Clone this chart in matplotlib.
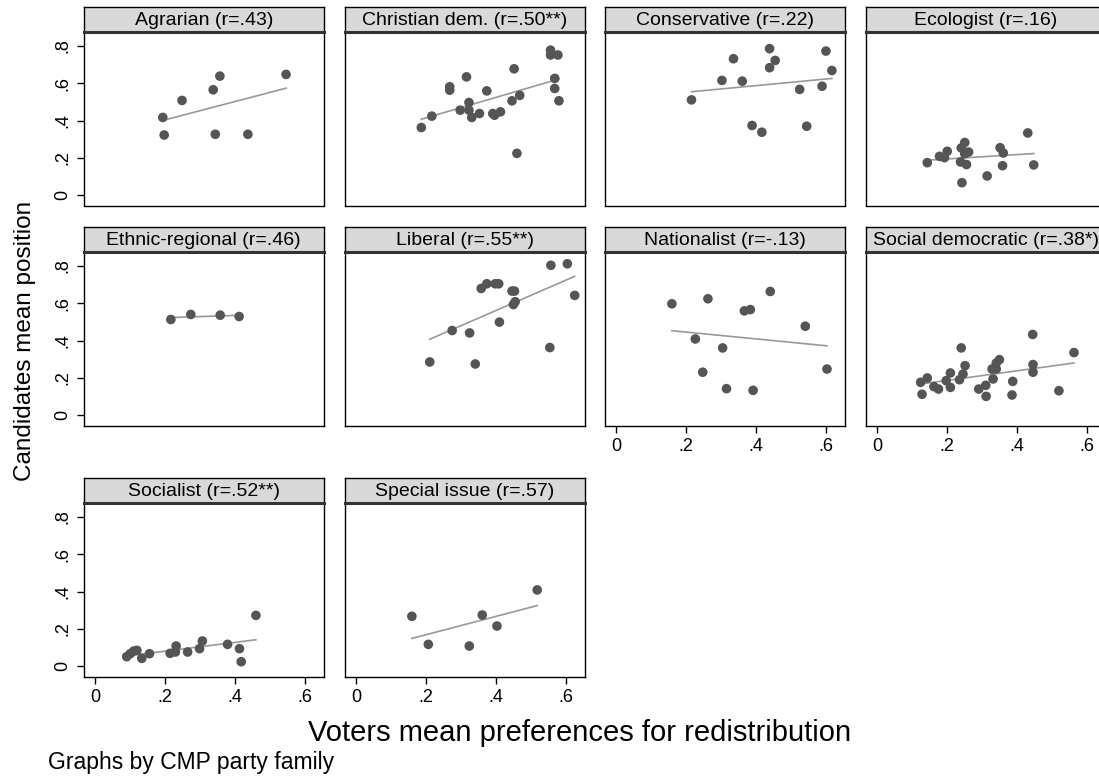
import numpy as np
import matplotlib
matplotlib.use("Agg")
from matplotlib import pyplot as plt

plt.rcParams['font.family'] = ['Liberation Sans', 'DejaVu Sans']

# Panel titles (CMP party family with correlation)
titles = ['Agrarian (r=.43)', 'Christian dem. (r=.50**)', 'Conservative (r=.22)',
          'Ecologist (r=.16)', 'Ethnic-regional (r=.46)', 'Liberal (r=.55**)',
          'Nationalist (r=-.13)', 'Social democratic (r=.38*)', 'Socialist (r=.52**)',
          'Special issue (r=.57)']

# voters' preferences (x) and candidates' positions (y) per party family
agrarian_x = [0.193, 0.197, 0.248, 0.337, 0.356, 0.343, 0.436, 0.545]
agrarian_y = [0.417, 0.323, 0.508, 0.565, 0.638, 0.327, 0.327, 0.647]

christian_x = [0.186, 0.216, 0.267, 0.267, 0.315, 0.322, 0.297, 0.322, 0.330, 0.352,
               0.373, 0.390, 0.395, 0.412, 0.445, 0.451, 0.467, 0.459, 0.555, 0.555,
               0.576, 0.567, 0.567, 0.579]
christian_y = [0.363, 0.424, 0.581, 0.563, 0.634, 0.497, 0.456, 0.456, 0.417, 0.438,
               0.559, 0.438, 0.429, 0.447, 0.506, 0.677, 0.535, 0.225, 0.777, 0.751,
               0.751, 0.626, 0.572, 0.506]

conservative_x = [0.215, 0.302, 0.335, 0.360, 0.388, 0.416, 0.438, 0.454, 0.438, 0.524,
                  0.544, 0.599, 0.616, 0.588]
conservative_y = [0.511, 0.615, 0.731, 0.611, 0.374, 0.338, 0.785, 0.722, 0.683, 0.567,
                  0.370, 0.772, 0.668, 0.584]

ecologist_x = [0.143, 0.178, 0.192, 0.200, 0.240, 0.250, 0.261, 0.238, 0.255, 0.242,
               0.314, 0.351, 0.360, 0.358, 0.430, 0.447, 0.250]
ecologist_y = [0.175, 0.209, 0.202, 0.236, 0.254, 0.283, 0.232, 0.179, 0.165, 0.068,
               0.104, 0.255, 0.227, 0.159, 0.334, 0.163, 0.223]

ethnic_x = [0.216, 0.273, 0.357, 0.411]
ethnic_y = [0.513, 0.540, 0.536, 0.529]

liberal_x = [0.210, 0.274, 0.324, 0.340, 0.357, 0.373, 0.397, 0.407, 0.409, 0.445,
             0.452, 0.454, 0.449, 0.553, 0.556, 0.603, 0.624]
liberal_y = [0.286, 0.454, 0.441, 0.275, 0.679, 0.704, 0.704, 0.704, 0.499, 0.665,
             0.665, 0.608, 0.593, 0.363, 0.803, 0.811, 0.642]

nationalist_x = [0.159, 0.226, 0.247, 0.262, 0.304, 0.315, 0.366, 0.383, 0.391, 0.440,
                 0.540, 0.602]
nationalist_y = [0.597, 0.409, 0.231, 0.624, 0.361, 0.143, 0.559, 0.566, 0.134, 0.663,
                 0.477, 0.248]

socdem_x = [0.128, 0.124, 0.143, 0.162, 0.175, 0.197, 0.209, 0.209, 0.235, 0.240,
            0.245, 0.251, 0.290, 0.310, 0.311, 0.331, 0.328, 0.340, 0.340, 0.349,
            0.387, 0.385, 0.444, 0.445, 0.445, 0.519, 0.562]
socdem_y = [0.113, 0.177, 0.200, 0.154, 0.141, 0.186, 0.227, 0.150, 0.191, 0.361,
            0.221, 0.266, 0.141, 0.161, 0.102, 0.195, 0.248, 0.248, 0.280, 0.298,
            0.182, 0.109, 0.433, 0.272, 0.231, 0.132, 0.336]

socialist_x = [0.090, 0.100, 0.110, 0.119, 0.133, 0.155, 0.214, 0.229, 0.231, 0.264,
               0.298, 0.306, 0.378, 0.412, 0.417, 0.459]
socialist_y = [0.052, 0.068, 0.082, 0.086, 0.043, 0.068, 0.070, 0.077, 0.109, 0.077,
               0.095, 0.136, 0.118, 0.095, 0.025, 0.273]

special_x = [0.159, 0.206, 0.323, 0.360, 0.402, 0.517]
special_y = [0.268, 0.118, 0.109, 0.275, 0.216, 0.409]

xs = [agrarian_x, christian_x, conservative_x, ecologist_x, ethnic_x,
      liberal_x, nationalist_x, socdem_x, socialist_x, special_x]
ys = [agrarian_y, christian_y, conservative_y, ecologist_y, ethnic_y,
      liberal_y, nationalist_y, socdem_y, socialist_y, special_y]

x_ticks = [0, 0.2, 0.4, 0.6]
x_ticklabels = ['0', '.2', '.4', '.6']
y_ticks = [0, 0.2, 0.4, 0.6, 0.8]
y_ticklabels = ['0', '.2', '.4', '.6', '.8']

W, H = 1099, 778
fig = plt.figure(figsize=(W / 100, H / 100), dpi=100)

col_left = [84, 345, 605, 866]
row_top = [32, 252, 503]
pw, ph = 239.5, 173.5
strip_h = 25.5

for i, (title, x, y) in enumerate(zip(titles, xs, ys)):
    r, c = divmod(i, 4)
    left, top = col_left[c], row_top[r]
    ax = fig.add_axes([left / W, 1 - (top + ph) / H, pw / W, ph / H])
    ax.scatter(x, y, s=48, color='#555555', edgecolors='none', zorder=3)
    # linear fit over the observed range
    slope, icpt = np.polyfit(x, y, 1)
    xl = np.array([min(x), max(x)])
    ax.plot(xl, icpt + slope * xl, color='#999999', lw=1.2, zorder=2)
    ax.set_xlim(-0.032, 0.652)
    ax.set_ylim(-0.054, 0.874)
    for s in ax.spines.values():
        s.set_linewidth(1.0)
        s.set_color('black')

    ax.set_xticks(x_ticks)
    ax.set_yticks(y_ticks)
    show_x = (r == 2) or (r == 1 and c >= 2)
    if show_x:
        ax.set_xticklabels(x_ticklabels, fontsize=13)
        ax.tick_params(axis='x', length=5, width=1, pad=4)
    else:
        ax.tick_params(axis='x', length=0, labelbottom=False)
    if c == 0:
        ax.set_yticklabels(y_ticklabels, fontsize=13, rotation=90, va='center')
        ax.tick_params(axis='y', length=5, width=1, pad=4)
    else:
        ax.tick_params(axis='y', length=0, labelleft=False)

    # title strip
    sax = fig.add_axes([left / W, 1 - top / H, pw / W, strip_h / H])
    sax.set_facecolor('#d9d9d9')
    sax.set_xticks([])
    sax.set_yticks([])
    for s in sax.spines.values():
        s.set_linewidth(1.0)
        s.set_color('black')
    sax.spines['bottom'].set_linewidth(2.2)
    sax.spines['bottom'].set_color('#333333')
    sax.text(0.5, 0.47, title, transform=sax.transAxes, ha='center', va='center',
             fontsize=14)

fig.text(25 / W, 1 - 341 / H, 'Candidates mean position', rotation=90,
         ha='center', va='center', fontsize=17.5)
fig.text(580 / W, 1 - 733 / H, 'Voters mean preferences for redistribution',
         ha='center', va='center', fontsize=21)
fig.text(48 / W, 1 - 763 / H, 'Graphs by CMP party family',
         ha='left', va='center', fontsize=16.5)

fig.savefig('out.png', dpi=100)
